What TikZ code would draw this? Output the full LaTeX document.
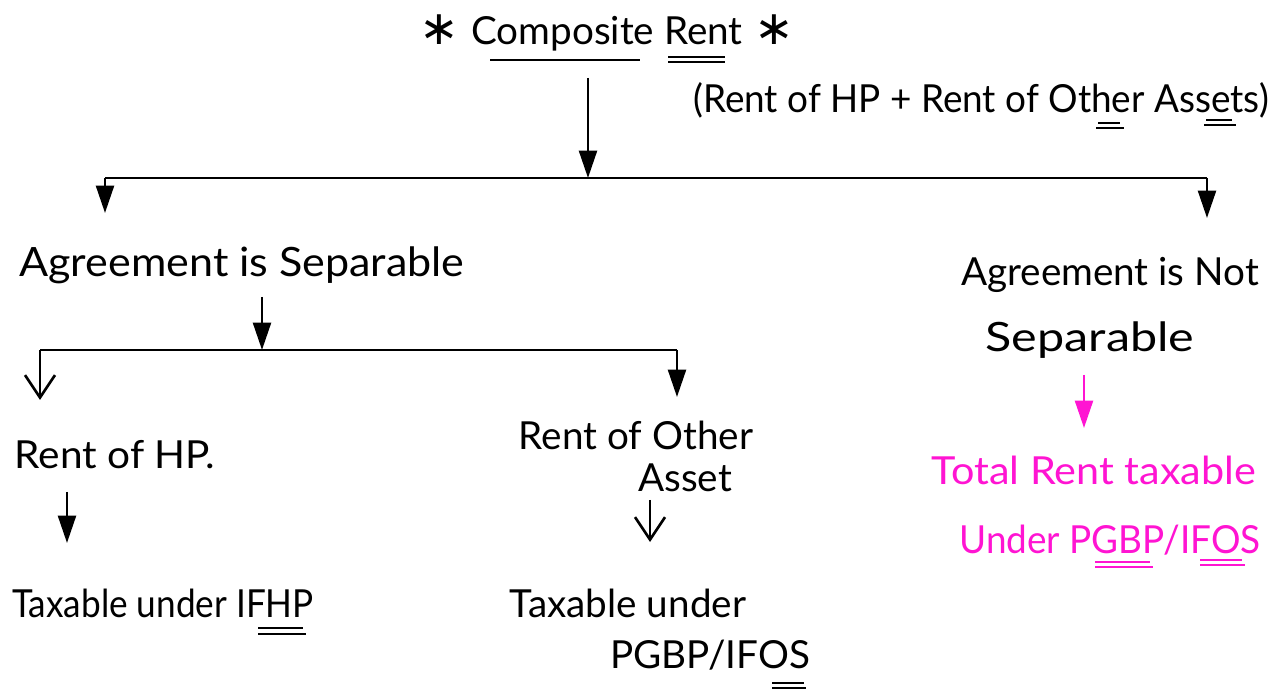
\documentclass[tikz,border=0pt]{standalone}
\usepackage{fontspec}
\setmainfont{Lato}
\newfontfamily\starfont{DejaVu Sans}
\usetikzlibrary{arrows.meta}
\definecolor{pinkink}{RGB}{255,20,210}
\newcommand{\titlestar}{{\starfont\fontsize{27}{27}\selectfont ∗}}
\newcommand{\stretchto}[1]{\addfontfeature{FakeStretch=#1}}
\begin{document}
\begin{tikzpicture}[x=0.02cm,y=-0.02cm,
  txt/.style={inner sep=0pt, font=\fontsize{22}{26}\selectfont},
  arr/.style={line width=1.5pt, -{Triangle[length=0.55cm,width=0.36cm]}},
  openarr/.style={line width=1.5pt, -{Straight Barb[length=0.45cm,width=0.6cm,line width=1.5pt]}},
  bar/.style={line width=1.5pt},
  ul/.style={line width=1.5pt}]
\useasboundingbox (0,0) rectangle (1286,689);

% texts
\node[txt] (title) at (607,33) {\titlestar\hspace{0.3em}Composite Rent\hspace{0.3em}\titlestar};
\node[txt,font=\fontsize{22}{26}\selectfont\stretchto{0.955}] (sum) at (981,100) {(Rent of HP + Rent of Other Assets)};
\node[txt,font=\fontsize{23}{27}\selectfont\stretchto{1.065}] (sep) at (242,265) {Agreement is Separable};
\node[txt] (nsep1) at (1110,275) {Agreement is Not};
\node[txt,font=\fontsize{23}{27}\selectfont\stretchto{1.2}] (nsep2) at (1090,340) {Separable};
\node[txt,font=\fontsize{22}{26}\selectfont\stretchto{1.05}] (hp) at (115,455) {Rent of HP.};
\node[txt] (oa1) at (636,435) {Rent of Other};
\node[txt] (oa2) at (685,478) {Asset};
\node[txt,font=\fontsize{22}{26}\selectfont\stretchto{0.91}] (txhp) at (163,603) {Taxable under IFHP};
\node[txt] (txoa1) at (628,603) {Taxable under};
\node[txt] (txoa2) at (710,655) {PGBP/IFOS};
\node[txt,text=pinkink,font=\fontsize{22}{26}\selectfont\stretchto{1.07}] (tot1) at (1094,470) {Total Rent taxable};
\node[txt,text=pinkink,font=\fontsize{22}{26}\selectfont\stretchto{0.955}] (tot2) at (1110,540) {Under PGBP/IFOS};

% junction points
\coordinate (t0) at (588,78);
\coordinate (j0) at (588,178);
\coordinate (b0L) at (105,178);
\coordinate (b0R) at (1207,178);
\coordinate (e0L) at (105,213);
\coordinate (e0R) at (1207,218);
\coordinate (s0) at (262,297);
\coordinate (j1) at (262,350);
\coordinate (b1L) at (40,350);
\coordinate (b1R) at (677,350);
\coordinate (e1L) at (40,400);
\coordinate (e1R) at (677,397);
\coordinate (h0) at (67,492);
\coordinate (h1) at (67,543);
\coordinate (a0) at (650,500);
\coordinate (a1) at (650,542);
\coordinate (n0) at (1084,375);
\coordinate (n1) at (1084,428);

% connectors
\draw[arr] (t0) -- (j0);
\draw[bar] (b0L) -- (b0R);
\draw[arr] (b0L) -- (e0L);
\draw[arr] (b0R) -- (e0R);
\draw[arr] (s0) -- (j1);
\draw[bar] (b1L) -- (b1R);
\draw[openarr] (b1L) -- (e1L);
\draw[arr] (b1R) -- (e1R);
\draw[arr] (h0) -- (h1);
\draw[openarr] (a0) -- (a1);
\draw[arr,draw=pinkink,fill=pinkink] (n0) -- (n1);

% underlines
\draw[ul] (490,60) -- (640,60);
\draw[ul] (668,57) -- (725,57) (668,62) -- (725,62);
\draw[ul] (1098,123) -- (1120,123) (1096,128) -- (1124,128);
\draw[ul] (1206,120) -- (1232,120) (1204,125) -- (1236,125);
\draw[ul] (258,628) -- (303,628) (258,634) -- (306,634);
\draw[ul] (772,683) -- (804,683) (772,688) -- (806,688);
\draw[ul,draw=pinkink] (1095,562) -- (1150,562) (1095,567) -- (1153,567);
\draw[ul,draw=pinkink] (1200,560) -- (1242,560) (1200,565) -- (1245,565);
\end{tikzpicture}
\end{document}
